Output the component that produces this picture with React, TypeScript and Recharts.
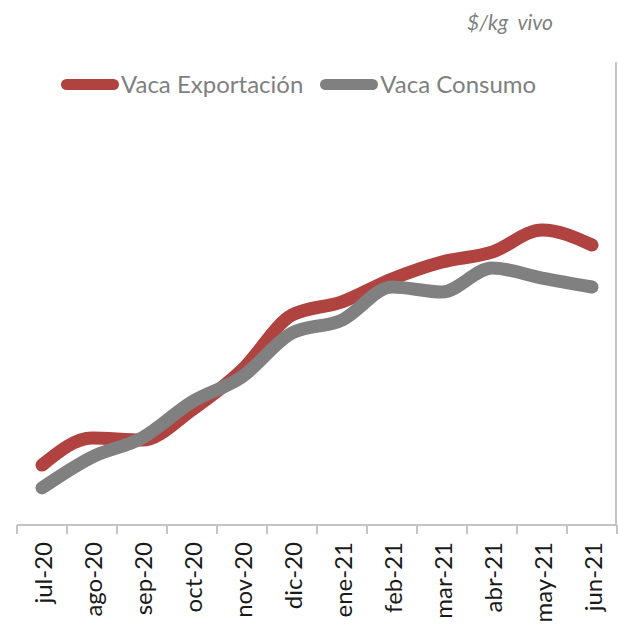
import { LineChart, Line, XAxis, YAxis, Legend } from 'recharts'

const months = ['jul-20', 'ago-20', 'sep-20', 'oct-20', 'nov-20', 'dic-20', 'ene-21', 'feb-21', 'mar-21', 'abr-21', 'may-21', 'jun-21']
const vacaExportacion = [69.4, 78.2, 77.5, 87.3, 100.2, 118.0, 122.3, 129.7, 135.2, 138.4, 145.6, 140.7]
const vacaConsumo = [62.0, 72.0, 78.2, 89.9, 98.0, 112.2, 116.4, 127.1, 125.5, 133.3, 130.0, 127.1]

const RED = '#B04240'
const GREY = '#808080'
const AXIS = '#C4C4C4'
const FONT = 'Lato, "Open Sans", sans-serif'

const W = 618
const H = 632
const PLOT_TOP = 62
const PLOT_LEFT = 17
const PLOT_W = 600
const X_AXIS_H = 107
const HALF_BAND = PLOT_W / months.length / 2

const data = months.map((m, i) => ({
  month: m,
  exp: vacaExportacion[i],
  con: vacaConsumo[i],
}))

// recharts clones this with x/y/payload/index
function MonthTick({ x, y, payload, index, visibleTicksCount }: any) {
  const last = index === (visibleTicksCount ?? months.length) - 1
  return (
    <g>
      <line x1={x - HALF_BAND} y1={y} x2={x - HALF_BAND} y2={y + 9} stroke={AXIS} strokeWidth={2} />
      {last && <line x1={x + HALF_BAND} y1={y} x2={x + HALF_BAND} y2={y + 9} stroke={AXIS} strokeWidth={2} />}
      <text
        x={0}
        y={0}
        transform={`translate(${x},${y + 17}) rotate(-90)`}
        textAnchor="end"
        dominantBaseline="central"
        fontSize={24}
        fontFamily={FONT}
        fill="#1a1a1a"
      >
        {payload.value}
      </text>
    </g>
  )
}

function LegendBox() {
  const item = (color: string, label: string) => (
    <span style={{ display: 'flex', alignItems: 'center', marginRight: 17 }}>
      <span style={{ width: 58, height: 11, borderRadius: 6, background: color, display: 'inline-block' }} />
      <span style={{ marginLeft: 2 }}>{label}</span>
    </span>
  )
  return (
    <div style={{ display: 'flex', fontFamily: FONT, fontSize: 24, color: '#7F7F7F', lineHeight: '28px' }}>
      {item(RED, 'Vaca Exportación')}
      {item(GREY, 'Vaca Consumo')}
    </div>
  )
}

export default function App() {
  return (
    <div style={{ position: 'absolute', left: 0, top: 0, width: W, height: H, background: '#fff' }}>
      <div
        style={{
          position: 'absolute',
          left: 467,
          top: 9,
          fontFamily: FONT,
          fontStyle: 'italic',
          fontSize: 21,
          color: '#7F7F7F',
          zIndex: 2,
        }}
      >
        $/kg&nbsp; vivo
      </div>
      {/* right-hand border of the plot area */}
      <div
        style={{
          position: 'absolute',
          left: PLOT_LEFT + PLOT_W - 2,
          top: PLOT_TOP,
          width: 2,
          height: H - PLOT_TOP - X_AXIS_H,
          background: AXIS,
          zIndex: 2,
        }}
      />
      <LineChart
        width={W}
        height={H}
        data={data}
        margin={{ top: PLOT_TOP, right: 1, bottom: 0, left: PLOT_LEFT }}
      >
        <XAxis
          dataKey="month"
          scale="band"
          interval={0}
          height={X_AXIS_H}
          tickLine={false}
          tickSize={0}
          tickMargin={0}
          axisLine={{ stroke: AXIS, strokeWidth: 2 }}
          tick={<MonthTick />}
        />
        <YAxis hide domain={[50, 200]} />
        <Legend
          layout="horizontal"
          verticalAlign="middle"
          align="center"
          content={<LegendBox />}
          wrapperStyle={{ position: 'absolute', left: 61, top: 70, width: 'auto' }}
        />
        <Line
          type="monotone"
          dataKey="exp"
          name="Vaca Exportación"
          stroke={RED}
          strokeWidth={13}
          strokeLinecap="round"
          strokeLinejoin="round"
          dot={false}
          activeDot={false}
          isAnimationActive={false}
        />
        <Line
          type="monotone"
          dataKey="con"
          name="Vaca Consumo"
          stroke={GREY}
          strokeWidth={13}
          strokeLinecap="round"
          strokeLinejoin="round"
          dot={false}
          activeDot={false}
          isAnimationActive={false}
        />
      </LineChart>
    </div>
  )
}
